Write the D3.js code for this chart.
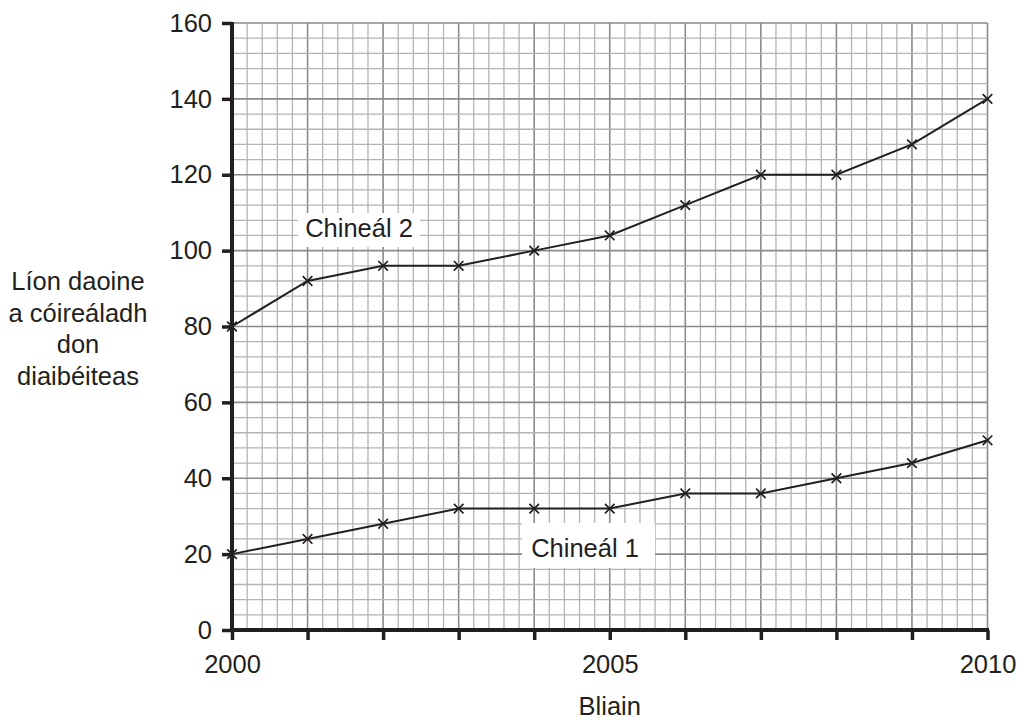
<!DOCTYPE html>
<html><head><meta charset="utf-8">
<script src="https://cdn.jsdelivr.net/npm/d3@7"></script>
<style>body{margin:0;background:#fff}svg{display:block}text{font-family:"Liberation Sans",Arial,sans-serif;fill:#231f20}</style>
</head><body><svg id="c" width="1019" height="720"></svg>
<script>
const years = [2000,2001,2002,2003,2004,2005,2006,2007,2008,2009,2010];
const type1 = [20,24,28,32,32,32,36,36,40,44,50];
const type2 = [80,92,96,96,100,104,112,120,120,128,140];
const yTicks = [0,20,40,60,80,100,120,140,160];
const xTicks = [2000,2005,2010];
const seriesLabels = ["Chineál 1","Chineál 2"];
const yTitle = ["Líon daoine","a cóireáladh","don","diaibéiteas"];
const xTitle = "Bliain";

const svg = d3.select("#c");
const x = d3.scaleLinear().domain([2000,2010]).range([232,987.5]);
const y = d3.scaleLinear().domain([0,160]).range([630,23]);
const FS = 25.5;

const g = svg.append("g");
const vMinor = d3.range(0,50.5,1).map(i=>2000+i*0.2);
const hMinor = d3.range(0,40.5,1).map(i=>i*4);
g.selectAll(".vm").data(vMinor).join("line")
  .attr("x1",d=>x(d)).attr("x2",d=>x(d)).attr("y1",y(0)).attr("y2",y(160))
  .attr("stroke",(d,i)=>i%5===0?"#8a8a8a":"#b4b4b4").attr("stroke-width",(d,i)=>i%5===0?1.6:1.3);
g.selectAll(".hm").data(hMinor).join("line")
  .attr("x1",x(2000)).attr("x2",x(2010)).attr("y1",d=>y(d)).attr("y2",d=>y(d))
  .attr("stroke",(d,i)=>i%5===0?"#8a8a8a":"#b4b4b4").attr("stroke-width",(d,i)=>i%5===0?1.6:1.3);

const yAxis = d3.axisLeft(y).tickValues(yTicks).tickSize(10).tickPadding(10);
const ya = svg.append("g").attr("transform",`translate(${x(2000)},0)`).call(yAxis);
ya.select(".domain").remove();
ya.selectAll(".tick line").attr("stroke","#231f20").attr("stroke-width",3.5);
ya.selectAll(".tick text").attr("font-size",FS).style("font-family","Liberation Sans, Arial, sans-serif").attr("fill","#231f20");

const xAxis = d3.axisBottom(x).tickValues(years).tickSize(10).tickFormat(d=>xTicks.includes(d)?d:"").tickPadding(15);
const xa = svg.append("g").attr("transform",`translate(0,${y(0)})`).call(xAxis);
xa.select(".domain").remove();
xa.selectAll(".tick line").attr("stroke","#231f20").attr("stroke-width",3.5);
xa.selectAll(".tick text").attr("font-size",FS).style("font-family","Liberation Sans, Arial, sans-serif").attr("fill","#231f20");

svg.append("line").attr("x1",x(2000)).attr("x2",x(2000)).attr("y1",y(160)-1).attr("y2",y(0)+2)
  .attr("stroke","#231f20").attr("stroke-width",4);
svg.append("line").attr("x1",x(2000)-2).attr("x2",x(2010)+1.5).attr("y1",y(0)).attr("y2",y(0))
  .attr("stroke","#231f20").attr("stroke-width",4);

function boxLabel(txt, bx0, by0, bx1, by1, tx, ty){
  svg.append("rect").attr("x",bx0).attr("y",by0).attr("width",bx1-bx0).attr("height",by1-by0).attr("fill","#fff");
  svg.append("text").attr("x",tx).attr("y",ty).attr("text-anchor","middle").attr("font-size",FS).text(txt);
}
boxLabel(seriesLabels[1], 298, 213, 420, 247, 359, 237);
boxLabel(seriesLabels[0], 522, 523, 655, 568, 585, 557);

const line = d3.line().x((d,i)=>x(years[i])).y(d=>y(d));
[type1,type2].forEach(s=>{
  svg.append("path").attr("d",line(s)).attr("fill","none").attr("stroke","#231f20").attr("stroke-width",2);
  svg.selectAll(null).data(s).join("path")
    .attr("d",(d,i)=>{const cx=x(years[i]),cy=y(d),r=4.8;return `M${cx-r},${cy-r}L${cx+r},${cy+r}M${cx-r},${cy+r}L${cx+r},${cy-r}`;})
    .attr("stroke","#231f20").attr("stroke-width",1.7);
});

svg.append("text").attr("x",x(2005)).attr("y",715).attr("text-anchor","middle").attr("font-size",FS).text(xTitle);
const yt = svg.append("text").attr("x",78).attr("text-anchor","middle").attr("font-size",FS);
yTitle.forEach((t,i)=>yt.append("tspan").attr("x",78).attr("y",290+i*31.7).text(t));
</script></body></html>
